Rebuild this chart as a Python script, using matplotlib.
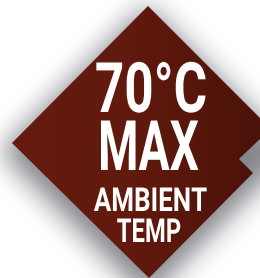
import numpy as np
import matplotlib.pyplot as plt
from matplotlib.patches import Polygon
from matplotlib.colors import LinearSegmentedColormap
from matplotlib.font_manager import FontProperties
from matplotlib import patheffects
from matplotlib.transforms import Affine2D

W, H = 260, 278

# badge outline (pixel coords, y down), notch on the right side
badge_x = [148, 262, 262, 239, 253, 149, 12]
badge_y = [6, 120, 137, 159, 173, 278, 143]

# two text blocks, each with two lines
blocks = [["70°C", "MAX"], ["AMBIENT", "TEMP"]]
block_cap = [49.5, 23.5]
line_base = [[112, 170], [211, 242]]
line_left = [[97, 100], [96, 118]]
line_right = [[205, 197], [205, 180]]


class Squeeze(patheffects.AbstractPathEffect):
    # narrow each line of a text around its own target center
    def __init__(self, anchor_x, base_y, centers, scales):
        super().__init__()
        self.anchor_x = anchor_x
        self.base_y = np.asarray(base_y)
        self.centers = centers
        self.scales = scales

    def draw_path(self, renderer, gc, tpath, affine, rgbFace=None):
        y = affine.get_matrix()[1, 2]
        i = int(np.argmin(np.abs(self.base_y - y)))
        t = affine + Affine2D().translate(-self.anchor_x, 0).scale(self.scales[i], 1) \
            .translate(self.centers[i], 0)
        renderer.draw_path(gc, tpath, t, rgbFace)


def blur(img, sigma):
    k = np.arange(-3 * sigma, 3 * sigma + 1)
    g = np.exp(-k ** 2 / (2 * sigma ** 2))
    g /= g.sum()
    img = np.apply_along_axis(lambda r: np.convolve(r, g, mode='same'), 1, img)
    img = np.apply_along_axis(lambda c: np.convolve(c, g, mode='same'), 0, img)
    return img


fig = plt.figure(figsize=(W / 100, H / 100), dpi=100)
ax = fig.add_axes([0, 0, 1, 1])
ax.set_xlim(0, W)
ax.set_ylim(H, 0)
ax.axis('off')

# soft drop shadow: blurred, slightly larger diamond shifted down
pad = 60
yy, xx = np.mgrid[-pad:H + pad, -pad:W + pad] + 0.5
mask = (np.abs(xx - 147) + np.abs(yy - 152) <= 146).astype(float)
soft = blur(mask, 13)[pad:-pad, pad:-pad]
shadow = np.zeros((H, W, 4))
shadow[..., 0] = 0.33
shadow[..., 1] = 0.34
shadow[..., 2] = 0.37
shadow[..., 3] = 0.72 * soft
ax.imshow(shadow, extent=(0, W, H, 0), zorder=0, interpolation='bilinear')

# badge with a left-to-right gradient
badge = Polygon(np.column_stack([badge_x, badge_y]), closed=True,
                facecolor='none', edgecolor='none', zorder=1)
ax.add_patch(badge)
cmap = LinearSegmentedColormap.from_list('badge', ['#661b0e', '#611a0d', '#4b1209'])
grad = np.tile(np.linspace(0, 1, W), (H, 1))
im = ax.imshow(grad, cmap=cmap, extent=(0, W, H, 0), zorder=1, interpolation='bilinear')
im.set_clip_path(badge)
ax.set_xlim(0, W)
ax.set_ylim(H, 0)

fig.canvas.draw()
renderer = fig.canvas.get_renderer()
for lines, cap, bases, lefts, rights in zip(blocks, block_cap, line_base, line_left, line_right):
    size = cap / 0.711 * 72 / 100
    prop = FontProperties(family='Roboto', weight='bold', size=size)
    _, lp_h, lp_d = renderer.get_text_width_height_descent("lp", prop, ismath=False)
    gap = bases[1] - bases[0]
    spacing = (gap - lp_d) / (lp_h - lp_d)
    ax_x = (lefts[0] + rights[0]) / 2
    # va='baseline' pins the last line's baseline
    t = ax.text(ax_x, bases[-1], "\n".join(lines), ha='center', va='baseline',
                multialignment='center', color='white', fontproperties=prop,
                linespacing=spacing, zorder=3)
    anchor = ax.transData.transform((ax_x, 0))[0]
    base_disp = [ax.transData.transform((0, b))[1] for b in bases]
    centers, scales = [], []
    for line, l, r in zip(lines, lefts, rights):
        w = renderer.get_text_width_height_descent(line, prop, ismath=False)[0]
        scales.append((r - l) / w * 1.04)
        centers.append(ax.transData.transform(((l + r) / 2, 0))[0])
    t.set_path_effects([Squeeze(anchor, base_disp, centers, scales)])

fig.savefig('out.png', dpi=100)
